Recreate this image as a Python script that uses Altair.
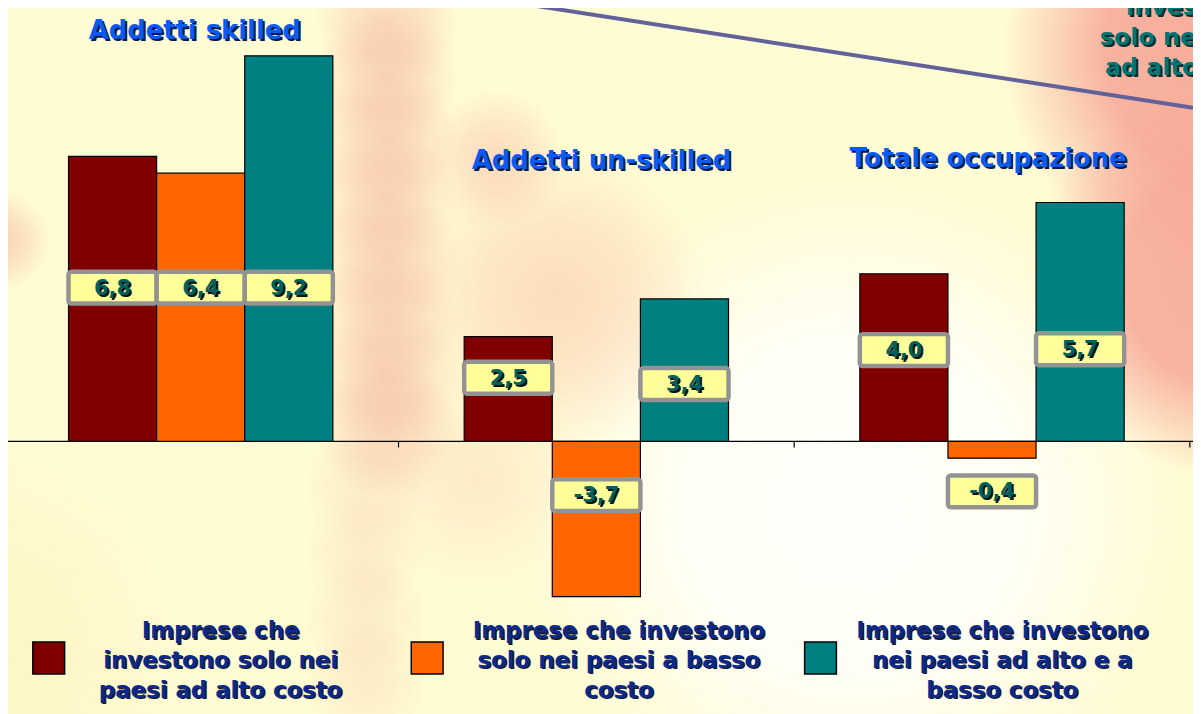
import altair as alt
import pandas as pd

# ---------------- data ----------------
groups = ["Addetti skilled", "Addetti un-skilled", "Totale occupazione"]
series = [
    "Imprese che investono solo nei paesi ad alto costo",
    "Imprese che investono solo nei paesi a basso costo",
    "Imprese che investono nei paesi ad alto e a basso costo",
]
legend_lines = [
    ["Imprese che", "investono solo nei", "paesi ad alto costo"],
    ["Imprese che investono", "solo nei paesi a basso", "costo"],
    ["Imprese che investono", "nei paesi ad alto e a", "basso costo"],
]
corner_lines = ["investono", "solo nei paesi", "ad alto costo"]
series_colors = ["#800000", "#ff6600", "#008080"]

val_skilled = [6.8, 6.4, 9.2]
val_unskilled = [2.5, -3.7, 3.4]
val_totale = [4.0, -0.4, 5.7]

# value-box anchors (chart units)
box_skilled = [3.67, 3.67, 3.67]
box_unskilled = [1.52, -1.28, 1.37]
box_totale = [2.18, -1.19, 2.20]

y_domain = [-6.446, 10.284]
x_domain = [-0.487, 2.508]   # in "group" units

# ---------------- layout constants ----------------
W, H = 1193, 706
FONT = "DejaVu Sans"
BAR_W = 0.2227               # bar width in group units
BOX_HALF = 0.38              # half height of value boxes (chart units)
title_x = [-0.015, 1.013, 1.99]
title_base = [29, 160, 158]
legend_sq_x = [41, 422, 818]
legend_tx = [214, 615, 1001]
legend_sq_y = 652
legend_first_base = 632
line_h = 30

rows = []
for gi, (g, vals, boxes) in enumerate(zip(groups, [val_skilled, val_unskilled, val_totale],
                                          [box_skilled, box_unskilled, box_totale])):
    for si, (s, v, b) in enumerate(zip(series, vals, boxes)):
        rows.append({"group": g, "gi": gi, "series": s, "si": si, "value": v, "box": b,
                     "label": f"{v:.1f}".replace(".", ",")})
df = pd.DataFrame(rows)

titles_df = pd.DataFrame({"group": groups, "gi": list(range(len(groups))),
                          "tx": title_x, "ty": title_base})

leg_rows = []
for i, (s, lines) in enumerate(zip(series, legend_lines)):
    for j, t in enumerate(lines):
        leg_rows.append({"series": s, "line": t, "tx": legend_tx[i],
                         "ty": legend_first_base + j * line_h})
leg_text_df = pd.DataFrame(leg_rows)
leg_sq_df = pd.DataFrame({"series": series, "sx": legend_sq_x, "sy": [legend_sq_y] * 3})
corner_df = pd.DataFrame({"line": corner_lines,
                          "ty": [5 + j * line_h for j in range(len(corner_lines))]})
one = pd.DataFrame({"k": [0]})

# ---------------- scales ----------------
xscale = alt.Scale(domain=x_domain, nice=False, zero=False)
yscale = alt.Scale(domain=y_domain, nice=False, zero=False)
cscale = alt.Scale(domain=series, range=series_colors)


def blob(cx, cy, r, rgb, a0, a1, mid=0.5):
    stops = [
        {"offset": 0, "color": f"rgba({rgb},{a0})"},
        {"offset": mid, "color": f"rgba({rgb},{a1})"},
        {"offset": 1, "color": f"rgba({rgb},0)"},
    ]
    return alt.Chart(one).mark_rect(
        fill={"gradient": "radial", "stops": stops}, strokeWidth=0
    ).encode(x=alt.value(cx - r), x2=alt.value(cx + r), y=alt.value(cy - r), y2=alt.value(cy + r))


background = [
    blob(-40, 650, 220, "250,240,180", 0.55, 0.35),
    blob(850, 500, 330, "255,255,252", 0.95, 0.85),
    blob(1232, 40, 230, "247,168,152", 0.95, 0.88, 0.55),
    blob(1232, 270, 200, "247,168,152", 0.95, 0.85, 0.55),
]
# pink vertical strip behind the first group
for cy in [10, 70, 130, 190, 250, 310, 370, 420]:
    background.append(blob(382, cy, 72, "240,150,135", 0.32, 0.22))
for cy in [480, 545, 610, 675]:
    background.append(blob(360, cy, 62, "240,185,155", 0.22, 0.14))
background += [
    blob(552, 290, 150, "248,190,165", 0.5, 0.32),
    blob(490, 150, 70, "245,160,145", 0.35, 0.22),
    blob(470, 470, 110, "248,205,175", 0.35, 0.2),
    blob(-8, 232, 50, "240,170,150", 0.5, 0.3),
]

diag = alt.Chart(one).mark_rule(color="#62619a", strokeWidth=4).encode(
    x=alt.value(509), y=alt.value(-8), x2=alt.value(1193), y2=alt.value(98)
)


def shadowed(fn, fill, shadow, off=2):
    return [fn(shadow, off), fn(fill, 0)]


def corner_fn(color, off):
    return alt.Chart(corner_df).mark_text(
        font=FONT, fontSize=24, fontWeight="bold", color=color, align="center",
        baseline="alphabetic", dx=off, dy=off
    ).encode(x=alt.value(1192), y=alt.Y("ty:Q", scale=None), text="line:N")


def title_fn(color, off):
    return alt.Chart(titles_df).mark_text(
        font=FONT, fontSize=26, fontWeight="bold", color=color, align="center",
        baseline="alphabetic", dx=off, dy=off
    ).encode(x=alt.X("tx:Q", scale=xscale, axis=None),
             y=alt.Y("ty:Q", scale=None), text="group:N")


baseline = alt.Chart(one).transform_calculate(zero="0").mark_rule(
    color="black", strokeWidth=1.2
).encode(x=alt.value(-8), x2=alt.value(W + 8), y=alt.Y("zero:Q", scale=yscale, axis=None))

ticks = alt.Chart(titles_df).transform_calculate(
    kx="datum.gi + 0.5", zero="0"
).mark_rule(color="black", strokeWidth=1.2).encode(
    x=alt.X("kx:Q", scale=xscale, axis=None),
    y=alt.Y("zero:Q", scale=yscale, axis=None),
    y2=alt.value(440),
)

bar_base = alt.Chart(df).transform_calculate(
    bx="datum.gi + (datum.si - 1.5) * %f" % BAR_W,
    bx2="datum.gi + (datum.si - 0.5) * %f" % BAR_W,
    cx="datum.gi + (datum.si - 1) * %f" % BAR_W,
    zero="0",
    lo="datum.box - %f" % BOX_HALF,
    hi="datum.box + %f" % BOX_HALF,
)

bars = bar_base.mark_rect(stroke="black", strokeWidth=1.2).encode(
    x=alt.X("bx:Q", scale=xscale, axis=None), x2="bx2:Q",
    y=alt.Y("value:Q", scale=yscale, axis=None), y2="zero:Q",
    color=alt.Color("series:N", scale=cscale, legend=None),
)

boxes = bar_base.mark_rect(fill="#ffff99", stroke="#939393", strokeWidth=4.5, cornerRadius=3).encode(
    x=alt.X("bx:Q", scale=xscale, axis=None), x2="bx2:Q",
    y=alt.Y("lo:Q", scale=yscale, axis=None), y2="hi:Q",
)


def label_fn(color, off):
    return bar_base.mark_text(
        font=FONT, fontSize=21, fontWeight="bold", color=color,
        baseline="middle", dx=off, dy=1 + off
    ).encode(x=alt.X("cx:Q", scale=xscale, axis=None),
             y=alt.Y("box:Q", scale=yscale, axis=None), text="label:N")


leg_sq = alt.Chart(leg_sq_df).mark_square(size=1024, stroke="black", strokeWidth=1.5, opacity=1).encode(
    x=alt.X("sx:Q", scale=None), y=alt.Y("sy:Q", scale=None),
    color=alt.Color("series:N", scale=cscale, legend=None),
)


def legend_fn(color, off):
    return alt.Chart(leg_text_df).mark_text(
        font=FONT, fontSize=23, fontWeight="bold", color=color, align="center",
        baseline="alphabetic", dx=off, dy=off
    ).encode(x=alt.X("tx:Q", scale=None), y=alt.Y("ty:Q", scale=None), text="line:N")


layers = (
    background
    + [diag]
    + shadowed(corner_fn, "#007575", "#0a2a2a", 2)
    + shadowed(title_fn, "#0b5bf2", "#061a4a", 2)
    + [baseline, ticks, bars, boxes]
    + shadowed(label_fn, "#006060", "#111111", 2)
    + [leg_sq]
    + shadowed(legend_fn, "#0c2a8c", "#1a1a2a", 1.5)
)

chart = alt.layer(*layers).properties(
    width=W, height=H, padding=0,
    autosize=alt.AutoSizeParams(type="none"),
    background="#fffbd3",
).configure_view(stroke=None)

chart.save("out.html", embed_options={"renderer": "svg", "actions": False})
